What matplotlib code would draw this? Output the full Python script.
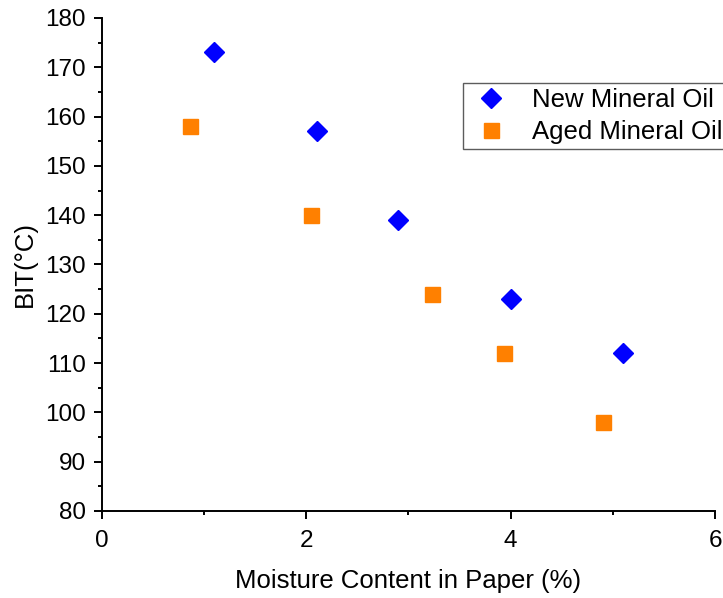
import matplotlib.pyplot as plt
from matplotlib.ticker import MultipleLocator

plt.rcParams['font.family'] = ['Liberation Sans', 'DejaVu Sans']

# Moisture content (%) vs breakdown initiation temperature
new_moist = [1.1, 2.1, 2.9, 4.0, 5.1]
new_bit = [173, 157, 139, 123, 112]
aged_moist = [0.86, 2.05, 3.23, 3.93, 4.9]
aged_bit = [158, 140, 124, 112, 98]

fig = plt.figure(figsize=(7.23, 5.98), dpi=100)
ax = fig.add_axes([0.141, 0.1455, 0.848, 0.8245])

ax.plot(new_moist, new_bit, 'D', color='#0000ff', markersize=10.2, label='New Mineral Oil')
ax.plot(aged_moist, aged_bit, 's', color='#ff8000', markersize=10.8, label='Aged Mineral Oil')

ax.set_xlim(0, 6)
ax.set_ylim(80, 180)
ax.xaxis.set_major_locator(MultipleLocator(2))
ax.xaxis.set_minor_locator(MultipleLocator(1))
ax.yaxis.set_major_locator(MultipleLocator(10))
ax.yaxis.set_minor_locator(MultipleLocator(5))
ax.tick_params(which='major', direction='out', length=6, width=1.4, labelsize=17.5)
ax.tick_params(which='minor', direction='out', length=3, width=1.4)
ax.tick_params(axis='x', which='major', pad=8)
ax.tick_params(axis='y', which='major', pad=5.5)
ax.spines['top'].set_visible(False)
ax.spines['right'].set_visible(False)
ax.spines['left'].set_linewidth(1.4)
ax.spines['bottom'].set_linewidth(1.4)

ax.set_xlabel('Moisture Content in Paper (%)', fontsize=18.5, labelpad=12)
ax.set_ylabel('BIT(°C)', fontsize=18.5, labelpad=6)

leg = ax.legend(loc='upper left', bbox_to_anchor=(0.640, 0.861), bbox_transform=fig.transFigure,
                fontsize=18.5, frameon=True, fancybox=False, borderaxespad=0,
                handletextpad=0.7, borderpad=0.2, labelspacing=0.3, handlelength=1.8)
leg.get_frame().set_edgecolor('#333333')
leg.get_frame().set_linewidth(1.0)

fig.savefig('out.png', dpi=100)
